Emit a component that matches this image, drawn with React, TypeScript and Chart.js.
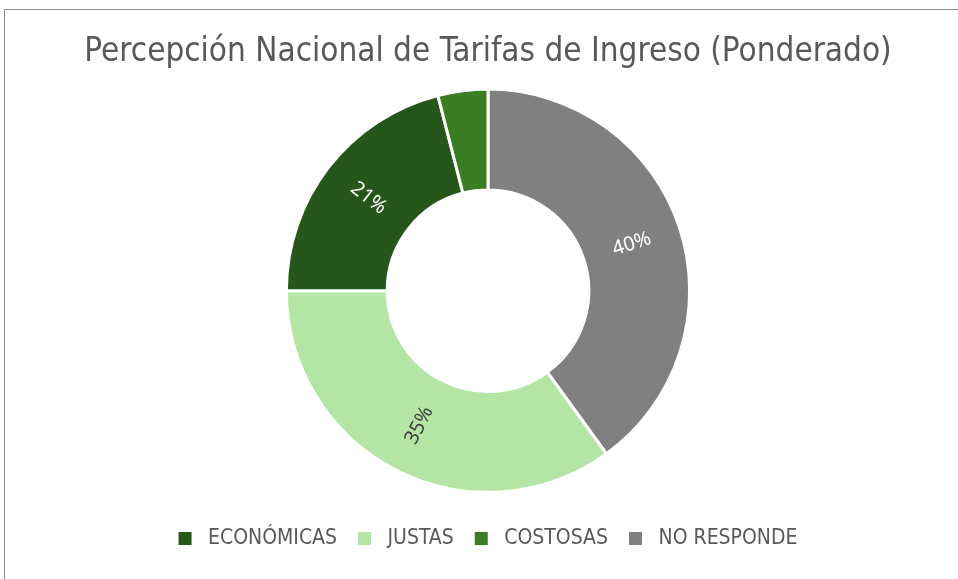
import React, { useEffect, useRef } from "react";
import { Chart, registerables } from "chart.js";

Chart.register(...registerables);

const TITLE = "Percepción Nacional de Tarifas de Ingreso (Ponderado)";
const categories = ["NO RESPONDE", "JUSTAS", "ECONÓMICAS", "COSTOSAS"];
const values = [40, 35, 21, 4];
const percentLabels = ["40%", "35%", "21%", ""];
const legendOrder = ["ECONÓMICAS", "JUSTAS", "COSTOSAS", "NO RESPONDE"];
const colors = ["#808080", "#B5E5A5", "#27561B", "#3B7D23"];
const labelColors = ["#FFFFFF", "#404040", "#FFFFFF", "#FFFFFF"];

const NARROW = "'Liberation Sans Narrow', 'DejaVu Sans Condensed', 'Roboto', sans-serif";
const LABEL_FONT = "'Noto Sans', 'Open Sans', sans-serif";

const radialLabels = {
  id: "radialLabels",
  afterDatasetsDraw(chart: any) {
    const meta = chart.getDatasetMeta(0);
    const ctx = chart.ctx;
    ctx.save();
    meta.data.forEach((arc: any, i: number) => {
      const text = percentLabels[i];
      if (!text) return;
      const p = arc.getProps(["x", "y", "startAngle", "endAngle", "innerRadius", "outerRadius"], true);
      const mid = (p.startAngle + p.endAngle) / 2;
      const r = (p.innerRadius + p.outerRadius) / 2;
      const x = p.x + Math.cos(mid) * r;
      const y = p.y + Math.sin(mid) * r;
      let rot = Math.atan2(Math.sin(mid), Math.cos(mid));
      if (rot > Math.PI / 2) rot -= Math.PI;
      if (rot < -Math.PI / 2) rot += Math.PI;
      ctx.save();
      ctx.translate(x, y);
      ctx.rotate(rot);
      ctx.font = `20px ${LABEL_FONT}`;
      ctx.fillStyle = labelColors[i];
      ctx.textAlign = "center";
      ctx.textBaseline = "middle";
      ctx.fillText(text, 0, 0);
      ctx.restore();
    });
    ctx.restore();
  },
};

export default function App() {
  const canvasRef = useRef<HTMLCanvasElement | null>(null);

  useEffect(() => {
    if (!canvasRef.current) return;
    const chart = new Chart(canvasRef.current, {
      type: "doughnut",
      data: {
        labels: categories,
        datasets: [
          {
            data: values,
            backgroundColor: colors,
            borderColor: "#FFFFFF",
            borderWidth: 3,
          },
        ],
      },
      options: {
        animation: false,
        responsive: false,
        maintainAspectRatio: false,
        cutout: "50%",
        layout: { padding: { left: 18, right: 0, top: 0, bottom: 20 } },
        plugins: {
          title: {
            display: true,
            text: TITLE,
            color: "#595959",
            font: { family: NARROW, size: 33, weight: "normal" },
            padding: { top: 33, bottom: 15 },
          },
          legend: {
            display: true,
            position: "bottom",
            title: { display: true, text: "", font: { size: 11 }, padding: 0 },
            labels: {
              generateLabels: (chart: any) => {
                const base = (Chart as any).overrides.doughnut.plugins.legend.labels.generateLabels(chart);
                return base.map((item: any) => ({ ...item, text: " " + item.text, lineWidth: 0 }));
              },
              sort: (a: any, b: any) =>
                legendOrder.indexOf(categories[a.index]) - legendOrder.indexOf(categories[b.index]),
              boxWidth: 13,
              boxHeight: 13,
              padding: 21,
              color: "#595959",
              font: { family: NARROW, size: 21 },
            },
          },
          tooltip: { enabled: false },
        },
      },
      plugins: [radialLabels],
    });
    return () => chart.destroy();
  }, []);

  return (
    <div style={{ position: "fixed", left: 0, top: 0, width: 958, height: 579, background: "#FFFFFF", overflow: "hidden" }}>
      <div
        style={{
          position: "absolute",
          left: 4,
          top: 9,
          width: 1200,
          height: 1000,
          border: "1px solid #8C8C8C",
          boxSizing: "border-box",
        }}
      />
      <canvas ref={canvasRef} width={958} height={579} style={{ position: "absolute", left: 0, top: 0, width: 958, height: 579 }} />
    </div>
  );
}
